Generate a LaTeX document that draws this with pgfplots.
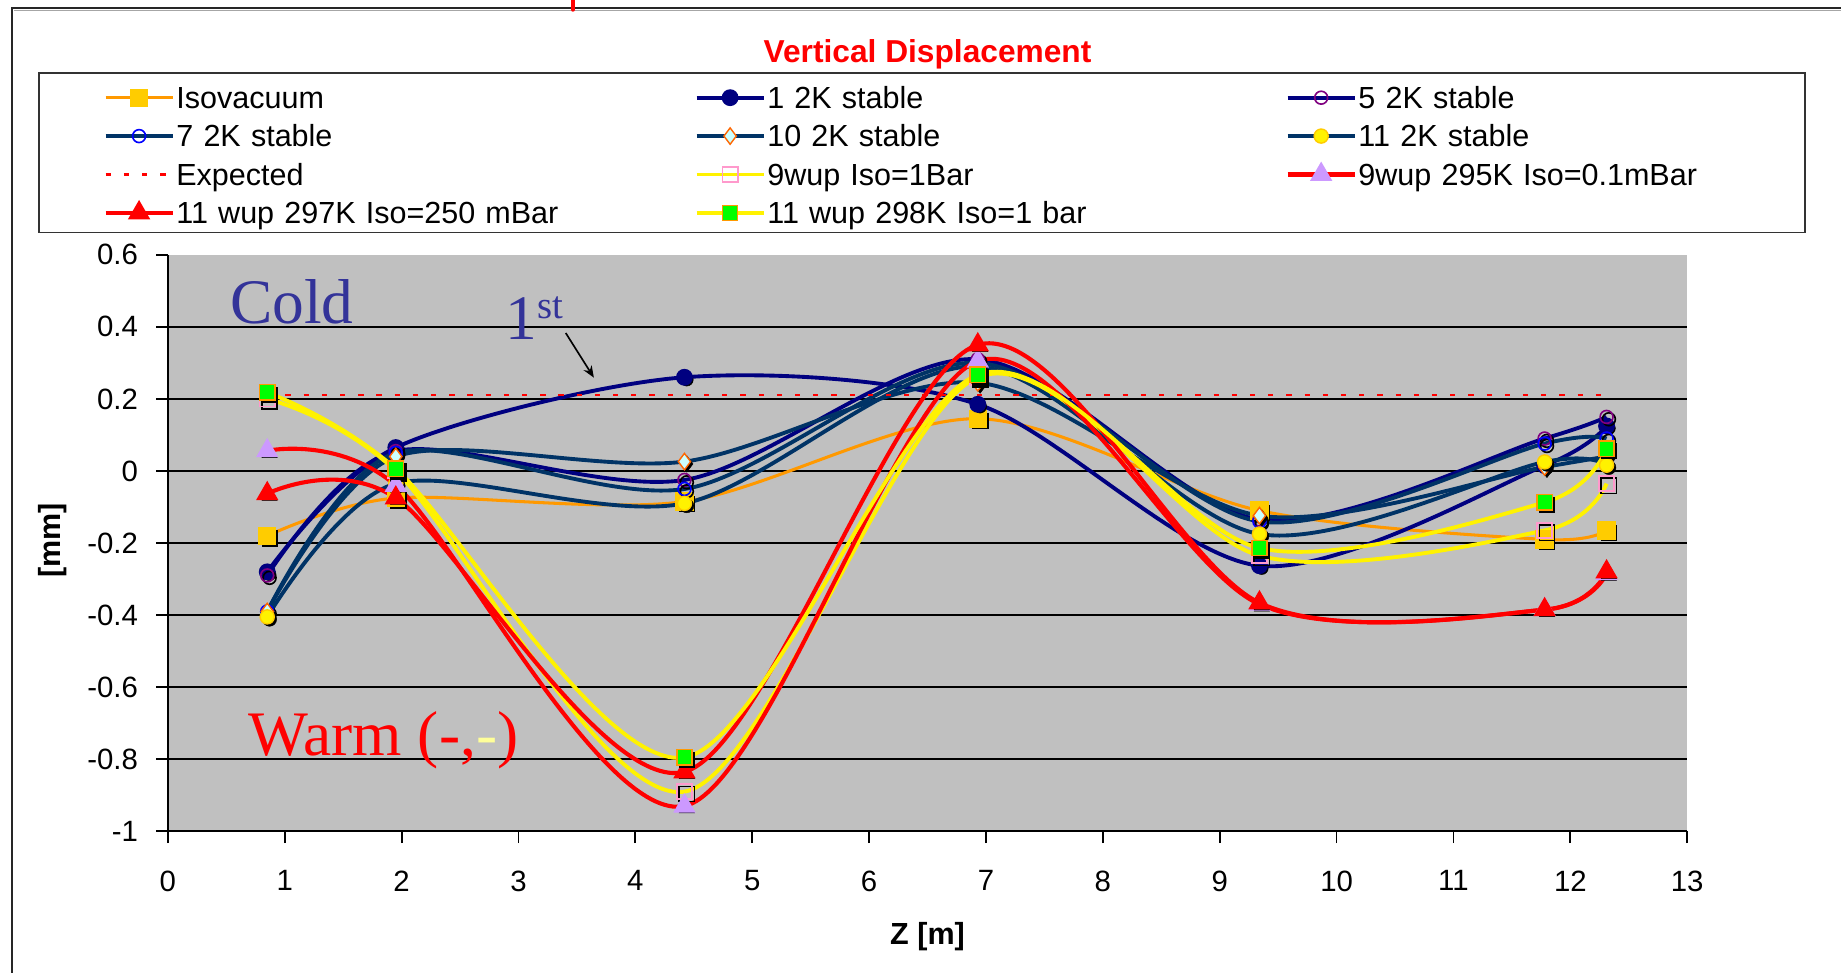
\documentclass[border=0pt]{standalone}
\usepackage{pgfplots}
\usepackage{pgfplotstable}
\pgfplotsset{compat=1.18}
\usepackage{fontspec}
\setmainfont{Liberation Sans}
\newfontfamily\serifnote{Liberation Serif}
\usetikzlibrary{arrows.meta}

\definecolor{plotgray}{HTML}{C0C0C0}
\definecolor{isoorange}{HTML}{FF9900}
\definecolor{isogold}{HTML}{FFCC00}
\definecolor{navyline}{HTML}{000080}
\definecolor{tealline}{HTML}{003366}
\definecolor{markpurple}{HTML}{800080}
\definecolor{markblue}{HTML}{0000FF}
\definecolor{markorange}{HTML}{FF6600}
\definecolor{lightcyan}{HTML}{CCFFFF}
\definecolor{pinkmark}{HTML}{FF99CC}
\definecolor{lavender}{HTML}{CC99FF}
\definecolor{brightgreen}{HTML}{00FF00}
\definecolor{coldblue}{HTML}{333399}
\definecolor{paleyellow}{HTML}{FFFF99}

% vertical displacement [mm] along Z [m]
% iso = Isovacuum, sN = N 2K stable, wA = 9wup Iso=1Bar, wB = 9wup 295K Iso=0.1mBar,
% wC = 11 wup 297K Iso=250 mBar, wD = 11 wup 298K Iso=1 bar
\pgfplotstableread{
z      iso     s1      s5      s7      s10     s11     wA      wB      wC      wD
0.85  -0.180  -0.280  -0.290  -0.390  -0.390  -0.405   0.200   0.056  -0.063   0.218
1.95  -0.075   0.065   0.055   0.050   0.040  -0.035   0.000  -0.040  -0.075   0.006
4.42  -0.085   0.260  -0.025  -0.050   0.026  -0.090  -0.890  -0.930  -0.835  -0.795
6.93   0.145   0.185   0.310   0.300   0.245   0.290   0.260   0.305   0.350   0.267
9.34  -0.110  -0.263  -0.135  -0.140  -0.124  -0.175  -0.235  -0.370  -0.366  -0.214
11.78 -0.190   0.015   0.090   0.076   0.011   0.025  -0.165  -0.385  -0.385  -0.087
12.31 -0.165   0.125   0.150   0.090   0.040   0.016  -0.035  -0.285  -0.280   0.062
}\disp

\pgfplotsset{
  shadowmarks/.style={forget plot, only marks, mark options={solid, draw=black, fill=black, xshift=2pt, yshift=-2pt}},
  openshadow/.style={forget plot, only marks, mark options={solid, draw=black, line width=1.4pt, xshift=2pt, yshift=-2pt}},
}

\begin{document}
\begin{tikzpicture}[x=1pt,y=1pt]
\useasboundingbox (0,0) rectangle (1568,828);
\fill[white] (0,0) rectangle (1568,828);
% chart frame
\draw[line width=1.5pt, black!85] (10,-5) -- (10,821) -- (1580,821);
\draw[line width=1pt, black!35] (12,819) -- (1580,819);
% tail of the page heading above the frame
\draw[red, line width=4pt, line cap=round] (488,832) -- (488,820);
% legend frame
\draw[line width=1.5pt, black!80] (33,630) rectangle (1537,766);

\begin{axis}[
  at={(143pt,120pt)}, anchor=south west,
  scale only axis, width=1294pt, height=491pt,
  xmin=0, xmax=13, ymin=-1, ymax=0.6,
  xtick={0,1,2,3,4,5,6,7,8,9,10,11,12,13},
  xticklabels={0,1,2,3,4,5,6,7,8,9,10,11,12,13},
  ytick={-1,-0.8,-0.6,-0.4,-0.2,0,0.2,0.4},
  yticklabels={-1,-0.8,-0.6,-0.4,-0.2,0,0.2,0.4},
  extra y ticks={0.6}, extra y tick labels={0.6},
  extra y tick style={grid=none},
  axis x line*=bottom, axis y line*=left,
  axis line style={line width=1.5pt, black},
  tick align=outside, major tick length=10pt,
  tick style={black, line width=1.5pt},
  ymajorgrids, major grid style={black, line width=1.6pt},
  axis background/.style={fill=plotgray},
  tick label style={font=\fontsize{25}{28}\selectfont},
  xticklabel style={yshift=-20pt},
  yticklabel style={xshift=-12pt},
  xlabel={Z [m]}, ylabel={[mm]},
  label style={font=\bfseries\fontsize{26}{30}\selectfont},
  xlabel style={at={(axis description cs:0.5,-0.1833)}, anchor=center},
  ylabel style={at={(axis description cs:-0.0757,0.505)}, anchor=center},
  title={Vertical Displacement},
  title style={at={(axis description cs:0.5,1.3357)}, anchor=center, font=\bfseries\fontsize{27}{30}\selectfont, text=red},
  legend columns=3, legend cell align=left,
  legend style={at={(axis description cs:-0.0425,1.30621)}, anchor=north west,
    draw=none, fill=none, inner sep=0pt,
    font=\fontsize{26}{30}\selectfont,
    nodes={text width=440pt, text height=18pt, text depth=0pt, inner ysep=7.35pt, inner xsep=1.5pt, align=left}},
  legend image code/.code={\draw[mark repeat=2, mark phase=2, #1] plot coordinates {(0pt,0pt) (28.5pt,0pt) (57pt,0pt)};},
  clip=false,
]

% Isovacuum
\addplot[shadowmarks, mark=square*, mark size=6.5pt] table[x=z,y=iso]{\disp};
\addplot[isoorange, line width=2.6pt, smooth, mark=square*, mark size=6.5pt,
  mark options={solid, fill=isogold, draw=isogold}] table[x=z,y=iso]{\disp};
\addlegendentry{Isovacuum}

% 1 2K stable
\addplot[shadowmarks, mark=*, mark size=5.5pt] table[x=z,y=s1]{\disp};
\addplot[navyline, line width=3.3pt, smooth, mark=*, mark size=5.5pt,
  mark options={solid, fill=navyline, draw=navyline}] table[x=z,y=s1]{\disp};
\addlegendentry{1 2K stable}

% 5 2K stable
\addplot[openshadow, mark=o, mark size=5.5pt] table[x=z,y=s5]{\disp};
\addplot[navyline, line width=3.3pt, smooth, mark=o, mark size=5.5pt,
  mark options={solid, draw=markpurple, line width=1.4pt}] table[x=z,y=s5]{\disp};
\addlegendentry{5 2K stable}

% 7 2K stable
\addplot[openshadow, mark=o, mark size=5.5pt] table[x=z,y=s7]{\disp};
\addplot[tealline, line width=3.3pt, smooth, mark=o, mark size=5.5pt,
  mark options={solid, draw=markblue, line width=1.4pt}] table[x=z,y=s7]{\disp};
\addlegendentry{7 2K stable}

% 10 2K stable
\addplot[shadowmarks, mark=diamond*, mark size=7pt] table[x=z,y=s10]{\disp};
\addplot[tealline, line width=3.3pt, smooth, mark=diamond*, mark size=7pt,
  mark options={solid, fill=lightcyan, draw=markorange, line width=1.2pt}] table[x=z,y=s10]{\disp};
\addlegendentry{10 2K stable}

% 11 2K stable
\addplot[shadowmarks, mark=*, mark size=6pt] table[x=z,y=s11]{\disp};
\addplot[tealline, line width=3.3pt, smooth, mark=*, mark size=6pt,
  mark options={solid, fill=yellow, draw=isogold, line width=1.2pt}] table[x=z,y=s11]{\disp};
\addlegendentry{11 2K stable}

% Expected
\addplot[red, line width=2pt, dash pattern=on 4.5pt off 11pt] coordinates {(0.85,0.21) (12.31,0.21)};
\addlegendentry{Expected}

% 9wup Iso=1Bar
\addplot[openshadow, mark=square, mark size=6.5pt] table[x=z,y=wA]{\disp};
\addplot[yellow, line width=3.3pt, smooth, mark=square, mark size=6.5pt,
  mark options={solid, draw=pinkmark, line width=1.4pt}] table[x=z,y=wA]{\disp};
\addlegendentry{9wup Iso=1Bar}

% 9wup 295K Iso=0.1mBar
\addplot[shadowmarks, mark=triangle*, mark size=7.5pt] table[x=z,y=wB]{\disp};
\addplot[red, line width=3.5pt, smooth, mark=triangle*, mark size=7.5pt,
  mark options={solid, fill=lavender, draw=lavender}] table[x=z,y=wB]{\disp};
\addlegendentry{9wup 295K Iso=0.1mBar}

% 11 wup 297K Iso=250 mBar
\addplot[shadowmarks, mark=triangle*, mark size=7.5pt] table[x=z,y=wC]{\disp};
\addplot[red, line width=3.5pt, smooth, mark=triangle*, mark size=7.5pt,
  mark options={solid, fill=red, draw=red}] table[x=z,y=wC]{\disp};
\addlegendentry{11 wup 297K Iso=250 mBar}

% 11 wup 298K Iso=1 bar
\addplot[shadowmarks, mark=square*, mark size=6.5pt] table[x=z,y=wD]{\disp};
\addplot[yellow, line width=3.3pt, smooth, mark=square*, mark size=6.5pt,
  mark options={solid, fill=brightgreen, draw=isoorange, line width=1.2pt}] table[x=z,y=wD]{\disp};
\addlegendentry{11 wup 298K Iso=1 bar}

% annotations
\node[anchor=center, inner sep=0pt, text=coldblue, font={\serifnote\fontsize{54}{60}\selectfont}]
  at (axis cs:1.06,0.47) {Cold};
\node[anchor=base west, inner sep=0pt, text=coldblue, font=\serifnote]
  at (axis cs:2.89,0.3635) {\fontsize{54}{60}\selectfont 1\raisebox{18pt}{\fontsize{33}{36}\selectfont st}};
\draw[-{Stealth[length=10pt,width=8pt]}, line width=1.4pt, black] (axis cs:3.404,0.383) -- (axis cs:3.645,0.259);
\node[anchor=base west, inner sep=0pt, text=red, font={\serifnote\fontsize{54}{60}\selectfont}]
  at (axis cs:0.69,-0.791) {Warm (-,\textcolor{paleyellow}{-})};
\end{axis}
\end{tikzpicture}
\end{document}
